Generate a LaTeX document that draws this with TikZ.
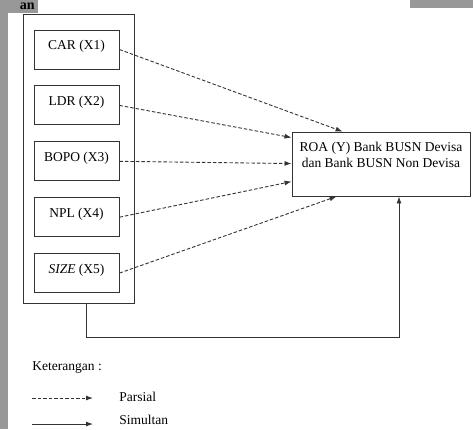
\documentclass[tikz,border=0pt]{standalone}
\usepackage{fontspec}
\setmainfont{Liberation Serif}
\usetikzlibrary{positioning, calc, arrows.meta}
\definecolor{scangray}{RGB}{152,152,152}

\begin{document}
\begin{tikzpicture}[x=1pt, y=1pt, line width=0.9pt, font=\fontsize{13.5}{15.5}\selectfont]
        % Define block styles
        \tikzstyle{varbox} = [rectangle, draw=black!80, minimum width=85pt, text height=19.5pt, text depth=19.5pt, inner ysep=0pt]
        \tikzstyle{dasharrow} = [draw=black!80, dash pattern=on 3.5pt off 2pt, -{Latex[length=7pt, width=5pt]}]
        \tikzstyle{solidarrow} = [draw=black!80, -{Latex[length=7pt, width=5pt]}]

        \useasboundingbox (0,0) rectangle (473,-429);

        % Scanned page edges
        \fill[scangray] (0,-13) rectangle (8,-429);
        \fill[scangray] (0,0) rectangle (38,-13);
        \fill[scangray] (410,0) rectangle (473,-8);
        \node[anchor=base east, inner sep=0, font=\bfseries\fontsize{14}{16}\selectfont] (heading) at (35,-9.5) {an};

        % Place nodes
        \node[draw=black!80, minimum width=111pt, minimum height=289pt, inner sep=0pt] (frame) at (78.5,-158.5) {};
        \node[varbox] (car) at (76.5,-49.5) {CAR (X1)};
        \node[varbox, below=16pt of car] (ldr) {LDR (X2)};
        \node[varbox, below=16pt of ldr] (bopo) {BOPO (X3)};
        \node[varbox, below=16pt of bopo] (npl) {NPL (X4)};
        \node[varbox, below=16pt of npl] (size) {\textit{SIZE} (X5)};
        \node[draw=black!80, align=center, minimum width=178pt, minimum height=64pt] (roa) at (381,-164) {ROA (Y) Bank BUSN Devisa\\dan Bank BUSN Non Devisa\\[3pt]};
        \coordinate (corner) at (399,-337);

        % Draw connections as arrows
        \draw[dasharrow] (car.base east) -- ($(roa.north west)+(51,0)$);
        \draw[dasharrow] (ldr.base east) -- ($(roa.north west)+(0,-6)$);
        \draw[dasharrow] (bopo.base east) -- ($(roa.north west)+(0,-32)$);
        \draw[dasharrow] (npl.base east) -- ($(roa.north west)+(0,-50)$);
        \draw[dasharrow] (size.base east) -- ($(roa.south west)+(45,0)$);
        \draw[solidarrow] ([xshift=7.5pt]frame.south) |- (corner) -- (roa.south -| corner);

        % Legend
        \node[anchor=west, inner sep=0pt] (ket) at (32,-368) {Keterangan :};
        \node[anchor=west, inner sep=0pt] (parsial) at (119,-397) {Parsial};
        \node[anchor=west, inner sep=0pt] (simultan) at (119,-420) {Simultan};
        \draw[dasharrow] ($(parsial.west)+(-87,-1)$) -- ($(parsial.west)+(-26,-1)$);
        \draw[solidarrow] ($(simultan.west)+(-87,-4)$) -- ($(simultan.west)+(-26,-4)$);
    \end{tikzpicture}
\end{document}
